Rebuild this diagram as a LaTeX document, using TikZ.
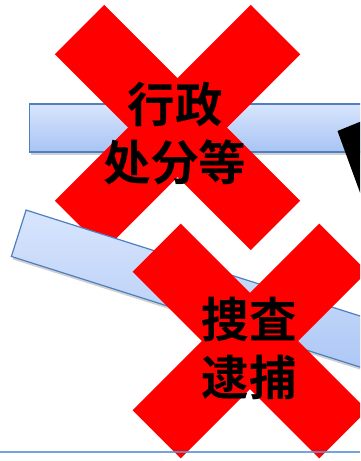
\documentclass[tikz,border=0pt]{standalone}
\usepackage{fontspec}
\newfontfamily\cjk{Noto Sans CJK JP Bold}
\usetikzlibrary{shadows}
\definecolor{barTop}{HTML}{D8E5FD}
\definecolor{barBot}{HTML}{A8C4F4}
\definecolor{barEdge}{HTML}{4F7FBE}
\definecolor{xred}{HTML}{FF0000}
\definecolor{lineBlue}{HTML}{5E93D6}
\tikzset{
  bar/.style={rectangle, draw=barEdge, line width=1.2pt, top color=barTop, bottom color=barBot,
    minimum height=48pt, inner sep=0pt,
    drop shadow={opacity=0.3, shadow xshift=1.5pt, shadow yshift=-3pt, fill=black!60}},
  xlabel/.style={font=\cjk\fontsize{47.5}{58}\selectfont, align=center, inner sep=0pt, text=black},
  xbar/.style={fill=xred}
}
\begin{document}
\begin{tikzpicture}[x=1pt,y=-1pt]
\path[use as bounding box, clip] (0,0) rectangle (360,461);
\fill[white] (0,0) rectangle (360,461);
% horizontal bar
\node[bar, anchor=north west, minimum width=360pt] (hbar) at (29,103.3) {};
% black pointer
\fill[black] (337.5,131) -- (362,121) -- (362,198) -- cycle;
% first cross
\begin{scope}[shift={(177.5,127.5)}, rotate=45]
  \fill[xbar] (-138.5,-35) rectangle (138.5,35);
  \fill[xbar] (-35,-138.5) rectangle (35,138.5);
\end{scope}
\node[xlabel] (t1) at (175,134) {行政\\处分等};
% slanted bar
\node[bar, anchor=north west, minimum width=440pt, minimum height=48.7pt, rotate=-17.6] (sbar) at (25.7,209.3) {};
% second cross
\begin{scope}[shift={(250,341)}, rotate=45]
  \fill[xbar] (-132,-34) rectangle (132,34);
  \fill[xbar] (-34,-132) rectangle (34,132);
\end{scope}
\node[xlabel] (t2) at (249,348.5) {捜査\\逮捕};
% base line
\coordinate (bl) at (0,451.7);
\coordinate (br) at (360,451.7);
\draw[draw=lineBlue, line width=1.6pt, opacity=0.85] (bl) -- (br);
\end{tikzpicture}
\end{document}
